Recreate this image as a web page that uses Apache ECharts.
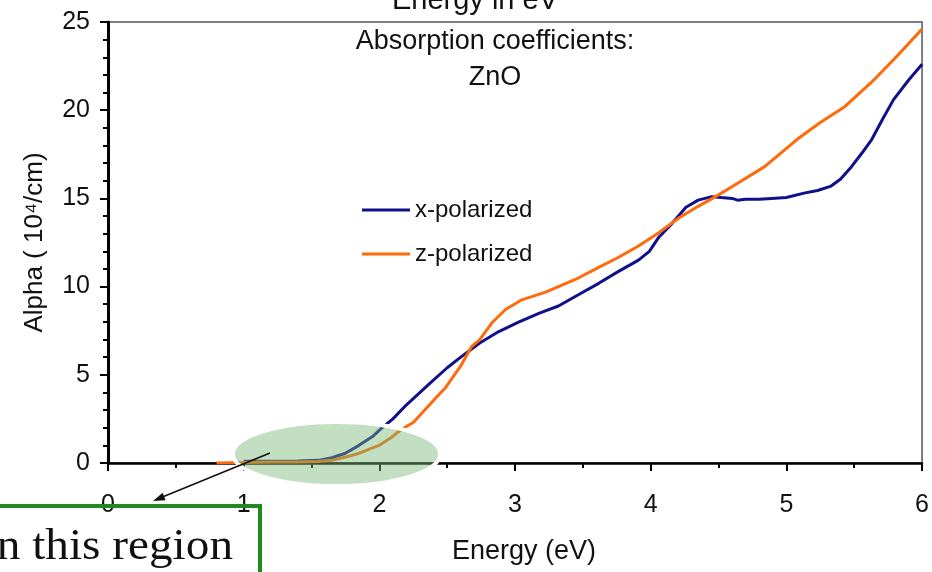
<!DOCTYPE html>
<html>
<head>
<meta charset="utf-8">
<script src="https://cdn.jsdelivr.net/npm/echarts@6/dist/echarts.min.js"></script>
<style>
html,body{margin:0;padding:0;background:#fff;}
#chart{width:932px;height:572px;}
</style>
</head>
<body>
<div id="chart"></div>
<script>
// x-polarized
var xPolE = [1.00,1.20,1.40,1.55,1.65,1.75,1.85,1.95,2.02,2.10,2.20,2.37,2.50,2.60,2.74,2.88,3.03,3.18,3.32,3.47,3.62,3.76,3.91,3.99,4.06,4.16,4.26,4.35,4.45,4.52,4.60,4.64,4.70,4.80,4.89,5.00,5.13,5.23,5.33,5.40,5.48,5.56,5.63,5.71,5.79,5.90,6.00];
var xPolAlpha = [0.10,0.10,0.12,0.15,0.30,0.55,1.00,1.50,2.00,2.50,3.30,4.50,5.40,6.00,6.80,7.45,8.00,8.50,8.90,9.55,10.20,10.85,11.50,12.00,12.80,13.60,14.50,14.90,15.10,15.05,15.00,14.90,14.95,14.95,15.00,15.05,15.30,15.45,15.70,16.10,16.80,17.60,18.35,19.50,20.60,21.70,22.60];
// z-polarized
var zPolE = [0.80,1.00,1.20,1.40,1.55,1.65,1.76,1.85,1.93,2.00,2.08,2.16,2.25,2.37,2.49,2.60,2.68,2.74,2.83,2.93,3.05,3.23,3.32,3.47,3.62,3.76,3.91,4.06,4.21,4.35,4.50,4.65,4.84,5.08,5.25,5.43,5.63,5.82,6.00];
var zPolAlpha = [0.00,0.03,0.05,0.06,0.08,0.15,0.35,0.55,0.80,1.00,1.40,1.90,2.30,3.30,4.30,5.50,6.60,7.00,7.95,8.70,9.25,9.70,10.00,10.50,11.10,11.65,12.30,13.05,13.90,14.55,15.20,15.90,16.80,18.35,19.30,20.20,21.60,23.10,24.60];

var seriesNames = ['x-polarized','z-polarized'];
var xTicks = [0,1,2,3,4,5,6];
var yTicks = [0,5,10,15,20,25];

function pairs(xs,ys){
	var out = [];
	for(var i=0;i<xs.length;i++){
		out.push([xs[i],ys[i]]);
	}
	return out;
}

var font = "'Liberation Sans', Arial, sans-serif";

var chart = echarts.init(document.getElementById('chart'), null, {renderer:'canvas'});

var option = {
	backgroundColor:'#fff',
	animation:false,
	textStyle:{fontFamily:font},
	grid:{
		left:108, right:8, top:22, bottom:109,
		show:true, borderColor:'#555', borderWidth:1.5
	},
	legend:{
		data:seriesNames,
		orient:'vertical',
		left:362, top:198,
		padding:0,
		itemGap:20,
		itemWidth:48, itemHeight:3,
		icon:'rect',
		textStyle:{fontSize:24, lineHeight:23, color:'#111', fontFamily:font}
	},
	xAxis:{
		type:'value',
		min:xTicks[0], max:xTicks[xTicks.length-1], interval:1,
		name:'Energy (eV)',
		nameLocation:'middle',
		nameGap:75,
		nameTextStyle:{fontSize:27, color:'#111', padding:[0,0,0,18], fontFamily:font},
		axisLine:{show:true, onZero:false, lineStyle:{color:'#000', width:2.5}},
		axisTick:{show:true, length:8, lineStyle:{color:'#000', width:2}},
		minorTick:{show:true, splitNumber:2, length:5, lineStyle:{color:'#000', width:2}},
		axisLabel:{fontSize:25, color:'#111', margin:30, fontFamily:font},
		splitLine:{show:false}
	},
	yAxis:{
		type:'value',
		min:yTicks[0], max:yTicks[yTicks.length-1], interval:5,
		name:'Alpha ( 10\u2074/cm)',
		nameLocation:'middle',
		nameGap:60,
		nameTextStyle:{fontSize:26, color:'#111', fontFamily:font},
		axisLine:{show:true, lineStyle:{color:'#000', width:3}},
		axisTick:{show:true, length:8, lineStyle:{color:'#000', width:2}},
		minorTick:{show:true, splitNumber:5, length:5, lineStyle:{color:'#000', width:2}},
		axisLabel:{fontSize:25, color:'#111', margin:18, fontFamily:font},
		splitLine:{show:false}
	},
	series:[
		{
			name:seriesNames[0],
			type:'line',
			data:pairs(xPolE,xPolAlpha),
			showSymbol:false,
			color:'#10108a',
			lineStyle:{color:'#10108a', width:3},
			z:3
		},
		{
			name:seriesNames[1],
			type:'line',
			data:pairs(zPolE,zPolAlpha),
			showSymbol:false,
			color:'#ff6a0a',
			lineStyle:{color:'#ff6a0a', width:3},
			z:4
		}
	],
	graphic:[
		{
			type:'text', x:475, y:1, z:50,
			style:{text:'Energy in eV', font:'29px ' + font, fill:'#111', align:'center', verticalAlign:'middle'}
		},
		{
			type:'text', x:495, y:42, z:50,
			style:{text:'Absorption coefficients:', font:'27px ' + font, fill:'#111', align:'center', verticalAlign:'middle'}
		},
		{
			type:'text', x:495, y:78, z:50,
			style:{text:'ZnO', font:'27px ' + font, fill:'#111', align:'center', verticalAlign:'middle'}
		},
		{
			type:'ellipse', z:100,
			shape:{cx:336.5, cy:454, rx:103.5, ry:32},
			style:{fill:'rgba(120,185,120,0.45)', stroke:'#fff', lineWidth:4}
		},
		{
			type:'line', z:101,
			shape:{x1:270, y1:453, x2:160, y2:498},
			style:{stroke:'#111', lineWidth:1.6}
		},
		{
			type:'polygon', z:101,
			shape:{points:[[153,501],[165.6,500.2],[162.6,492.8]]},
			style:{fill:'#111'}
		},
		{
			type:'rect', z:90,
			shape:{x:-10, y:506, width:270, height:100},
			style:{fill:null, stroke:'#1f8a1f', lineWidth:4}
		},
		{
			type:'text', x:233, y:547, z:102, scaleX:1.05,
			style:{text:'in this region', font:"45px 'Liberation Serif', 'DejaVu Serif', serif", fill:'#111', align:'right', verticalAlign:'middle'}
		}
	]
};

chart.setOption(option);
</script>
</body>
</html>
